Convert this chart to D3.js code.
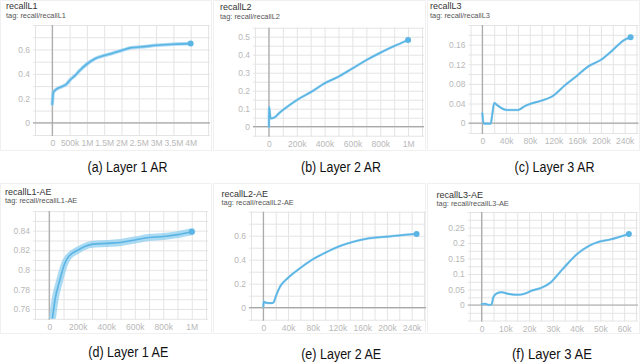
<!DOCTYPE html>
<html>
<head>
<meta charset="utf-8">
<script src="https://cdn.jsdelivr.net/npm/d3@7"></script>
<style>
  html, body { margin: 0; padding: 0; background: #fff; }
  svg { display: block; font-family: "Liberation Sans", Arial, Helvetica, sans-serif; }
</style>
</head>
<body>
<svg id="chart" width="640" height="362"></svg>
<script>
// ---------- DATA ----------
const titles = ["recallL1", "recallL2", "recallL3", "recallL1-AE", "recallL2-AE", "recallL3-AE"];
const tags = ["tag: recall/recallL1", "tag: recall/recallL2", "tag: recall/recallL3",
              "tag: recall/recallL1-AE", "tag: recall/recallL2-AE", "tag: recall/recallL3-AE"];
const captions = ["(a) Layer 1 AR", "(b) Layer 2 AR", "(c) Layer 3 AR",
                  "(d) Layer 1 AE", "(e) Layer 2 AE", "(f) Layer 3 AE"];

const l1arSteps  = [0, 29000, 125000, 270000, 414000, 511000, 655000, 800000, 1010000, 1233000, 1522000, 1763000, 2023000, 2293000, 2534000, 3015000, 3497000, 3998000];
const l1arRecall = [0.152, 0.248, 0.276, 0.295, 0.317, 0.35, 0.386, 0.43, 0.483, 0.524, 0.552, 0.571, 0.593, 0.615, 0.62, 0.634, 0.643, 0.648];

const l2arSteps  = [0, 1000, 12000, 40000, 77000, 125000, 200000, 305000, 400000, 500000, 600000, 700000, 800000, 900000, 1000000];
const l2arRecall = [0.0, 0.11, 0.046, 0.052, 0.078, 0.107, 0.148, 0.194, 0.241, 0.278, 0.324, 0.37, 0.411, 0.448, 0.481];

const l3arSteps  = [0, 2000, 5000, 14000, 17000, 20000, 24000, 27000, 41000, 60000, 72000, 80000, 100000, 117000, 140000, 160000, 179000, 200000, 219000, 240000, 250000];
const l3arRecall = [0.02, 0.0, -0.001, -0.001, 0.02, 0.041, 0.038, 0.035, 0.027, 0.027, 0.035, 0.039, 0.046, 0.054, 0.078, 0.097, 0.116, 0.129, 0.148, 0.17, 0.175];

const l1aeSteps  = [10000, 40000, 75000, 110000, 133000, 199000, 297000, 398000, 501000, 602000, 700000, 801000, 902000, 1000000];
const l1aeRecall = [0.735, 0.769, 0.79, 0.807, 0.813, 0.82, 0.826, 0.827, 0.828, 0.8305, 0.833, 0.834, 0.836, 0.839];

const l2aeSteps  = [0, 500, 3000, 11000, 16000, 18000, 20000, 27000, 39000, 59000, 78000, 100000, 124000, 146000, 167000, 200000, 226000, 248000];
const l2aeRecall = [0.01, 0.052, 0.042, 0.038, 0.042, 0.06, 0.092, 0.175, 0.244, 0.328, 0.397, 0.458, 0.514, 0.55, 0.575, 0.592, 0.606, 0.614];

const l3aeSteps  = [0, 1500, 3000, 4200, 4900, 6300, 8400, 11200, 15400, 18300, 21000, 25300, 28800, 32300, 36500, 40000, 45000, 49000, 54000, 59000, 62000];
const l3aeRecall = [0.003, 0.004, 0.0, 0.002, 0.025, 0.037, 0.041, 0.036, 0.033, 0.037, 0.046, 0.056, 0.071, 0.1, 0.136, 0.163, 0.19, 0.203, 0.211, 0.222, 0.229];

const xTicksA = [0, 500000, 1000000, 1500000, 2000000, 2500000, 3000000, 3500000, 4000000];
const xLabelsA = ["0", "500k", "1M", "1.5M", "2M", "2.5M", "3M", "3.5M", "4M"];
const yTicksA = [0, 0.2, 0.4, 0.6];
const yLabelsA = ["0", "0.2", "0.4", "0.6"];

const xTicksB = [0, 200000, 400000, 600000, 800000, 1000000];
const xLabelsB = ["0", "200k", "400k", "600k", "800k", "1M"];
const yTicksB = [0, 0.1, 0.2, 0.3, 0.4, 0.5];
const yLabelsB = ["0", "0.1", "0.2", "0.3", "0.4", "0.5"];

const xTicksC = [0, 40000, 80000, 120000, 160000, 200000, 240000];
const xLabelsC = ["0", "40k", "80k", "120k", "160k", "200k", "240k"];
const yTicksC = [0, 0.04, 0.08, 0.12, 0.16];
const yLabelsC = ["0", "0.04", "0.08", "0.12", "0.16"];

const xTicksD = [0, 200000, 400000, 600000, 800000, 1000000];
const xLabelsD = ["0", "200k", "400k", "600k", "800k", "1M"];
const yTicksD = [0.76, 0.78, 0.8, 0.82, 0.84];
const yLabelsD = ["0.76", "0.78", "0.8", "0.82", "0.84"];

const xTicksE = [0, 40000, 80000, 120000, 160000, 200000, 240000];
const xLabelsE = ["0", "40k", "80k", "120k", "160k", "200k", "240k"];
const yTicksE = [0, 0.2, 0.4, 0.6];
const yLabelsE = ["0", "0.2", "0.4", "0.6"];

const xTicksF = [0, 10000, 20000, 30000, 40000, 50000, 60000];
const xLabelsF = ["0", "10k", "20k", "30k", "40k", "50k", "60k"];
const yTicksF = [0, 0.05, 0.1, 0.15, 0.2, 0.25];
const yLabelsF = ["0", "0.05", "0.1", "0.15", "0.2", "0.25"];

// ---------- LAYOUT ----------
const lineColor = "#5ab4e4";
const bandColor = "#8fcdef";
const panels = [
  { steps: l1arSteps, vals: l1arRecall, xd: [-500000, 4500000], xr: [35, 208], yd: [-0.1, 0.8], yr: [135, 25],
    xg: 500000, yg: 0.1, xt: xTicksA, xl: xLabelsA, yt: yTicksA, yl: yLabelsA,
    tx: 6, ty: 9, tgy: 17.5, cx: 127.5, cy: 171.5, zeroLine: true, band: 3.5 },
  { steps: l2arSteps, vals: l2arRecall, xd: [-100000, 1100000], xr: [255, 422], yd: [-0.05, 0.55], yr: [135.7, 27.7],
    xg: 100000, yg: 0.05, xt: xTicksB, xl: xLabelsB, yt: yTicksB, yl: yLabelsB,
    tx: 220, ty: 10, tgy: 18.5, cx: 341, cy: 171.5, zeroLine: true, band: 2.6 },
  { steps: l3arSteps, vals: l3arRecall, xd: [-20000, 260000], xr: [470.5, 636.5], yd: [-0.02, 0.2], yr: [133, 25],
    xg: 20000, yg: 0.02, xt: xTicksC, xl: xLabelsC, yt: yTicksC, yl: yLabelsC,
    tx: 430, ty: 8.5, tgy: 17.5, cx: 554.5, cy: 171.5, zeroLine: true, band: 2.4 },
  { steps: l1aeSteps, vals: l1aeRecall, xd: [-100000, 1100000], xr: [35, 206], yd: [0.75, 0.86], yr: [318.8, 211.1],
    xg: 100000, yg: 0.01, xt: xTicksD, xl: xLabelsD, yt: yTicksD, yl: yLabelsD,
    tx: 5, ty: 195, tgy: 203, cx: 128.3, cy: 357, zeroLine: false, band: 7 },
  { steps: l2aeSteps, vals: l2aeRecall, xd: [-20000, 260000], xr: [251, 424], yd: [-0.1, 0.8], yr: [319.7, 211.7],
    xg: 20000, yg: 0.1, xt: xTicksE, xl: xLabelsE, yt: yTicksE, yl: yLabelsE,
    tx: 221.5, ty: 196.5, tgy: 204.5, cx: 341.2, cy: 359, zeroLine: true, band: 2.4 },
  { steps: l3aeSteps, vals: l3aeRecall, xd: [-5000, 65000], xr: [469.8, 636], yd: [-0.05, 0.3], yr: [320.5, 212],
    xg: 5000, yg: 0.025, xt: xTicksF, xl: xLabelsF, yt: yTicksF, yl: yLabelsF,
    tx: 436.5, ty: 197.5, tgy: 205.5, cx: 552, cy: 358.5, zeroLine: true, band: 2.4 }
];

const svg = d3.select("#chart");

// faint card borders
[[0, 0, 212, 150], [213, 0, 213, 150], [427, 0, 213, 150],
 [0, 183, 212, 150], [213, 183, 213, 150], [427, 183, 213, 150]].forEach(r => {
  svg.append("rect").attr("x", r[0] + 0.5).attr("y", r[1] + 0.5).attr("width", r[2] - 1).attr("height", r[3])
    .attr("fill", "none").attr("stroke", "#f0f0f0").attr("stroke-width", 1);
});

panels.forEach((p, i) => {
  const g = svg.append("g");
  const x = d3.scaleLinear().domain(p.xd).range(p.xr);
  const y = d3.scaleLinear().domain(p.yd).range(p.yr);
  const top = p.yr[1], bottom = p.yr[0], left = p.xr[0], right = p.xr[1];

  // grid values
  const xGrid = d3.range(Math.ceil(p.xd[0] / p.xg - 1e-9), Math.floor(p.xd[1] / p.xg + 1e-9) + 1).map(k => k * p.xg);
  const yGrid = d3.range(Math.ceil(p.yd[0] / p.yg - 1e-9), Math.floor(p.yd[1] / p.yg + 1e-9) + 1).map(k => +(k * p.yg).toFixed(6));

  // vertical grid via axis
  g.append("g").attr("transform", `translate(0,${bottom + 1})`)
    .call(d3.axisBottom(x).tickValues(xGrid).tickSize(-(bottom - top + 1)).tickFormat(""))
    .call(a => a.select(".domain").remove())
    .call(a => a.selectAll("line").attr("stroke", "#e4e4e4").attr("stroke-width", 1));
  // horizontal grid via axis
  g.append("g").attr("transform", `translate(${left - 2},0)`)
    .call(d3.axisLeft(y).tickValues(yGrid).tickSize(-(right - left + 4)).tickFormat(""))
    .call(a => a.select(".domain").remove())
    .call(a => a.selectAll("line").attr("stroke", "#e4e4e4").attr("stroke-width", 1));

  // zero axes
  g.append("line").attr("x1", x(0)).attr("x2", x(0)).attr("y1", top).attr("y2", bottom + 1)
    .attr("stroke", "#a8a8a8").attr("stroke-width", 1.2);
  if (p.zeroLine) {
    g.append("line").attr("x1", left - 2).attr("x2", right + 2).attr("y1", y(0)).attr("y2", y(0))
      .attr("stroke", "#a8a8a8").attr("stroke-width", 1.2);
  }

  // tick labels
  g.append("g").attr("transform", `translate(0,${bottom + 11})`)
    .call(d3.axisBottom(x).tickValues(p.xt).tickSize(0).tickPadding(0).tickFormat((d, k) => p.xl[k]))
    .call(a => a.select(".domain").remove())
    .call(a => a.selectAll("text").attr("fill", "#b8b8b8").attr("font-size", "8.5px")
      .attr("font-family", "'Liberation Sans', Arial, sans-serif").attr("dy", "0"));
  g.append("g").attr("transform", `translate(${left - 5},0)`)
    .call(d3.axisLeft(y).tickValues(p.yt).tickSize(0).tickPadding(0).tickFormat((d, k) => p.yl[k]))
    .call(a => a.select(".domain").remove())
    .call(a => a.selectAll("text").attr("fill", "#b8b8b8").attr("font-size", "8.5px")
      .attr("font-family", "'Liberation Sans', Arial, sans-serif"));

  // clip
  const cid = "clip" + i;
  svg.append("clipPath").attr("id", cid).append("rect")
    .attr("x", left).attr("y", top).attr("width", right - left).attr("height", bottom - top);

  const pts = p.steps.map((s, k) => [s, p.vals[k]]);
  const line = d3.line().x(d => x(d[0])).y(d => y(d[1])).curve(d3.curveMonotoneX);

  const lg = g.append("g").attr("clip-path", `url(#${cid})`);
  lg.append("path").attr("d", line(pts)).attr("fill", "none")
    .attr("stroke", bandColor).attr("stroke-width", p.band).attr("stroke-opacity", 0.75)
    .attr("stroke-linejoin", "round").attr("stroke-linecap", "round");
  lg.append("path").attr("d", line(pts)).attr("fill", "none")
    .attr("stroke", lineColor).attr("stroke-width", 1.6)
    .attr("stroke-linejoin", "round").attr("stroke-linecap", "round");
  const last = pts[pts.length - 1];
  g.append("circle").attr("cx", x(last[0])).attr("cy", y(last[1])).attr("r", 3).attr("fill", lineColor);

  // titles
  g.append("text").attr("x", p.tx).attr("y", p.ty).text(titles[i])
    .attr("font-size", "9px").attr("fill", "#333");
  g.append("text").attr("x", p.tx).attr("y", p.tgy).text(tags[i])
    .attr("font-size", "7.4px").attr("fill", "#555");

  // caption
  g.append("text").attr("x", p.cx).attr("y", p.cy).attr("text-anchor", "middle")
    .attr("font-size", "14px").attr("fill", "#111")
    .attr("textLength", 80).attr("lengthAdjust", "spacingAndGlyphs")
    .text(captions[i]);
});
</script>
</body>
</html>
